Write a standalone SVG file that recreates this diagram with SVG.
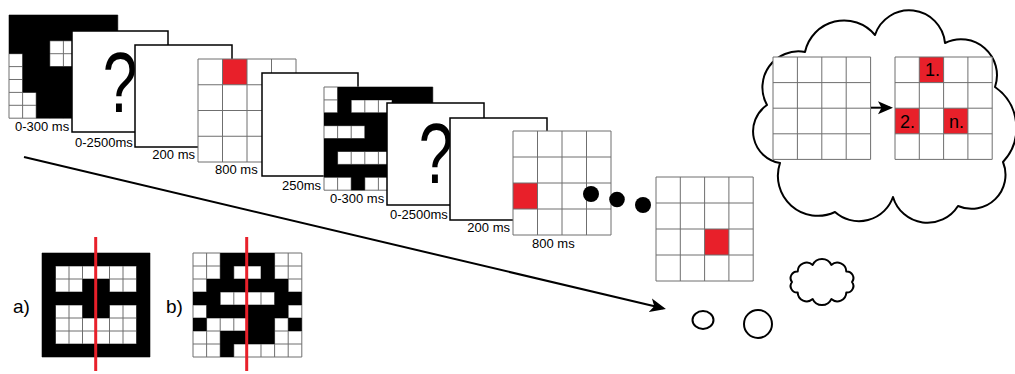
<svg xmlns="http://www.w3.org/2000/svg" width="1015" height="374" viewBox="0 0 1015 374">
<style>
  .card{fill:#fff;stroke:#000;stroke-width:1.5}
  .gl{fill:none;stroke:#6f6f6f;stroke-width:1}
  .blk{fill:#000}
  .red{fill:#e8202a}
  .lbl{font-family:"Liberation Sans",Arial,sans-serif;font-size:13px;fill:#000}
  .q{font-family:"Liberation Sans",Arial,sans-serif;font-size:86px;fill:#000;text-anchor:middle}
  .num{font-family:"Liberation Sans",Arial,sans-serif;font-size:18px;fill:#000}
  .tag{font-family:"Liberation Sans",Arial,sans-serif;font-size:19px;fill:#000}
  .axis{stroke:#e8202a;stroke-width:3}
  .bubble{fill:#fff;stroke:#000;stroke-width:2;stroke-linejoin:round}
  .edge{stroke:#000;stroke-width:2;fill:none}
</style>
<defs>
  <!-- unit grids: 8x8 and 4x4 cells, scaled per use -->
  <path id="g8" class="gl" vector-effect="non-scaling-stroke" d="M0 0H8V8H0Z M1 0V8M2 0V8M3 0V8M4 0V8M5 0V8M6 0V8M7 0V8 M0 1H8M0 2H8M0 3H8M0 4H8M0 5H8M0 6H8M0 7H8"/>
  <path id="g4" class="gl" vector-effect="non-scaling-stroke" d="M0 0H4V4H0Z M1 0V4M2 0V4M3 0V4 M0 1H4M0 2H4M0 3H4"/>
  <marker id="head" markerUnits="userSpaceOnUse" markerWidth="20" markerHeight="16" refX="13" refY="8" orient="auto">
    <path d="M0 1 L16 8 L0 15 L4 8 Z" fill="#000"/>
  </marker>
  <marker id="head2" markerUnits="userSpaceOnUse" markerWidth="18" markerHeight="15" refX="12" refY="7" orient="auto">
    <path d="M0 0.5 L15 7 L0 13.5 L3.5 7 Z" fill="#000"/>
  </marker>
</defs>

<!-- trial sequence -->
<g id="card1">
  <g transform="translate(9,15) scale(13.6,12.9)">
    <rect width="8" height="8" fill="#fff"/>
    <use href="#g8"/>
    <path class="blk" d="M0 0h8v2h-8z M0 2h3v1h-3z M5 2h3v2h-3z M1 3h2v1h-2z M1 4h7v2h-7z M2 6h6v2h-6z"/>
  </g>
  <text class="lbl" x="15" y="131">0-300 ms</text>
</g>

<g id="card2">
  <rect class="card" x="72" y="31" width="96" height="101"/>
  <text class="q" transform="translate(120,112) scale(0.72,1)">?</text>
  <text class="lbl" x="75" y="147">0-2500ms</text>
</g>

<g id="card3">
  <rect class="card" x="135" y="45" width="97" height="102"/>
  <text class="lbl" x="195" y="159" text-anchor="end">200 ms</text>
</g>

<g id="card4">
  <g transform="translate(198,59) scale(24.5,25.75)">
    <rect width="4" height="4" fill="#fff"/>
    <rect class="red" x="1" y="0" width="1" height="1"/>
    <use href="#g4"/>
  </g>
  <text class="lbl" x="215" y="174">800 ms</text>
</g>

<g id="card5">
  <rect class="card" x="262" y="73" width="96" height="103"/>
  <text class="lbl" x="282" y="190">250ms</text>
</g>

<g id="card6">
  <g transform="translate(324,87) scale(13.6,12.9)">
    <rect width="8" height="8" fill="#fff"/>
    <use href="#g8"/>
    <path class="blk" d="M1 0h7v1h-7z M1 1h1v1h-1z M5 1h3v1h-3z M0 2h8v1h-8z M3 3h5v1h-5z M0 4h8v1h-8z M0 5h1v1h-1z M5 5h3v1h-3z M0 6h8v1h-8z M2 7h1v1h-1z"/>
  </g>
  <text class="lbl" x="330" y="203">0-300 ms</text>
</g>

<g id="card7">
  <rect class="card" x="387" y="103" width="97" height="102"/>
  <text class="q" transform="translate(436,183) scale(0.72,1)">?</text>
  <text class="lbl" x="390" y="219">0-2500ms</text>
</g>

<g id="card8">
  <rect class="card" x="450" y="118" width="97" height="102"/>
  <text class="lbl" x="510" y="232" text-anchor="end">200 ms</text>
</g>

<g id="card9">
  <g transform="translate(513,131) scale(24.5,26)">
    <rect width="4" height="4" fill="#fff"/>
    <rect class="red" x="0" y="2" width="1" height="1"/>
    <use href="#g4"/>
  </g>
  <text class="lbl" x="532" y="248">800 ms</text>
</g>

<g id="ellipsis">
  <circle cx="591" cy="194" r="8"/>
  <circle cx="617" cy="199.5" r="7.8"/>
  <circle cx="643" cy="205" r="8"/>
</g>

<g id="card10">
  <g transform="translate(656,177) scale(24.3,26)">
    <rect width="4" height="4" fill="#fff"/>
    <rect class="red" x="2" y="2" width="1" height="1"/>
    <use href="#g4"/>
  </g>
</g>

<!-- thought bubble -->
<g id="bubble">
  <path class="bubble" d="M805 52 A40 40 0 0 1 875 35 A36 36 0 0 1 945 43 A36 36 0 0 1 995 87 A50 50 0 0 1 1003 162 A34 34 0 0 1 958 206 A36 36 0 0 1 893 197 A36 36 0 0 1 835 212 A40 40 0 0 1 780 163 A32 32 0 0 1 767 105 A36 36 0 0 1 805 52 Z"/>
  <path class="bubble" d="M852 282 A6.6 6.6 0 0 1 846.3 292.6 A9 9 0 0 1 831.3 299.1 A10.2 10.2 0 0 1 812.7 299.1 A9 9 0 0 1 797.7 292.6 A6.6 6.6 0 0 1 792 282 A6.6 6.6 0 0 1 797.7 271.4 A9 9 0 0 1 812.7 264.9 A10.2 10.2 0 0 1 831.3 264.9 A9 9 0 0 1 846.3 271.4 A6.6 6.6 0 0 1 852 282 Z"/>
  <ellipse class="bubble" cx="758" cy="324" rx="14" ry="14"/>
  <ellipse class="bubble" cx="703" cy="320" rx="10.5" ry="9"/>
</g>

<g id="grid-empty">
  <g transform="translate(773,57) scale(24.4,25.6)">
    <rect width="4" height="4" fill="#fff"/>
    <use href="#g4"/>
  </g>
</g>

<g id="grid-recall">
  <g transform="translate(895,57) scale(24.3,25.6)">
    <rect width="4" height="4" fill="#fff"/>
    <rect class="red" x="1" y="0" width="1" height="1"/>
    <rect class="red" x="0" y="2" width="1" height="1"/>
    <rect class="red" x="2" y="2" width="1" height="1"/>
    <use href="#g4"/>
  </g>
  <text class="num" x="925" y="76">1.</text>
  <text class="num" x="900" y="128">2.</text>
  <text class="num" x="949" y="128">n.</text>
</g>

<!-- symmetry examples -->
<g id="example-a">
  <text class="tag" x="13" y="313">a)</text>
  <g transform="translate(42,253) scale(13.5,13)">
    <rect width="8" height="8" fill="#fff"/>
    <use href="#g8"/>
    <path class="blk" d="M0 0h8v1h-8z M0 7h8v1h-8z M0 0h1v8h-1z M7 0h1v8h-1z M3 2h2v3h-2z M0 3h8v1h-8z"/>
  </g>
  <line class="axis" x1="95.7" y1="237" x2="95.7" y2="371"/>
</g>

<g id="example-b">
  <text class="tag" x="166" y="313">b)</text>
  <g transform="translate(193,253) scale(13.6,13)">
    <rect width="8" height="8" fill="#fff"/>
    <use href="#g8"/>
    <path class="blk" d="M2 0h4v1h-4z M2 1h1v1h-1z M5 1h1v1h-1z M1 2h6v1h-6z M0 3h2v1h-2z M6 3h2v1h-2z M1 4h6v1h-6z M0 5h1v1h-1z M4 5h2v1h-2z M7 5h1v1h-1z M2 6h4v1h-4z M2 7h1v1h-1z"/>
  </g>
  <line class="axis" x1="246.7" y1="237" x2="246.7" y2="371"/>
</g>

<!-- connectors -->
<g id="connectors">
  <line class="edge" x1="24" y1="157" x2="663" y2="308.3" marker-end="url(#head)"/>
  <line class="edge" x1="871" y1="107.7" x2="890" y2="107.7" marker-end="url(#head2)"/>
</g>
</svg>
